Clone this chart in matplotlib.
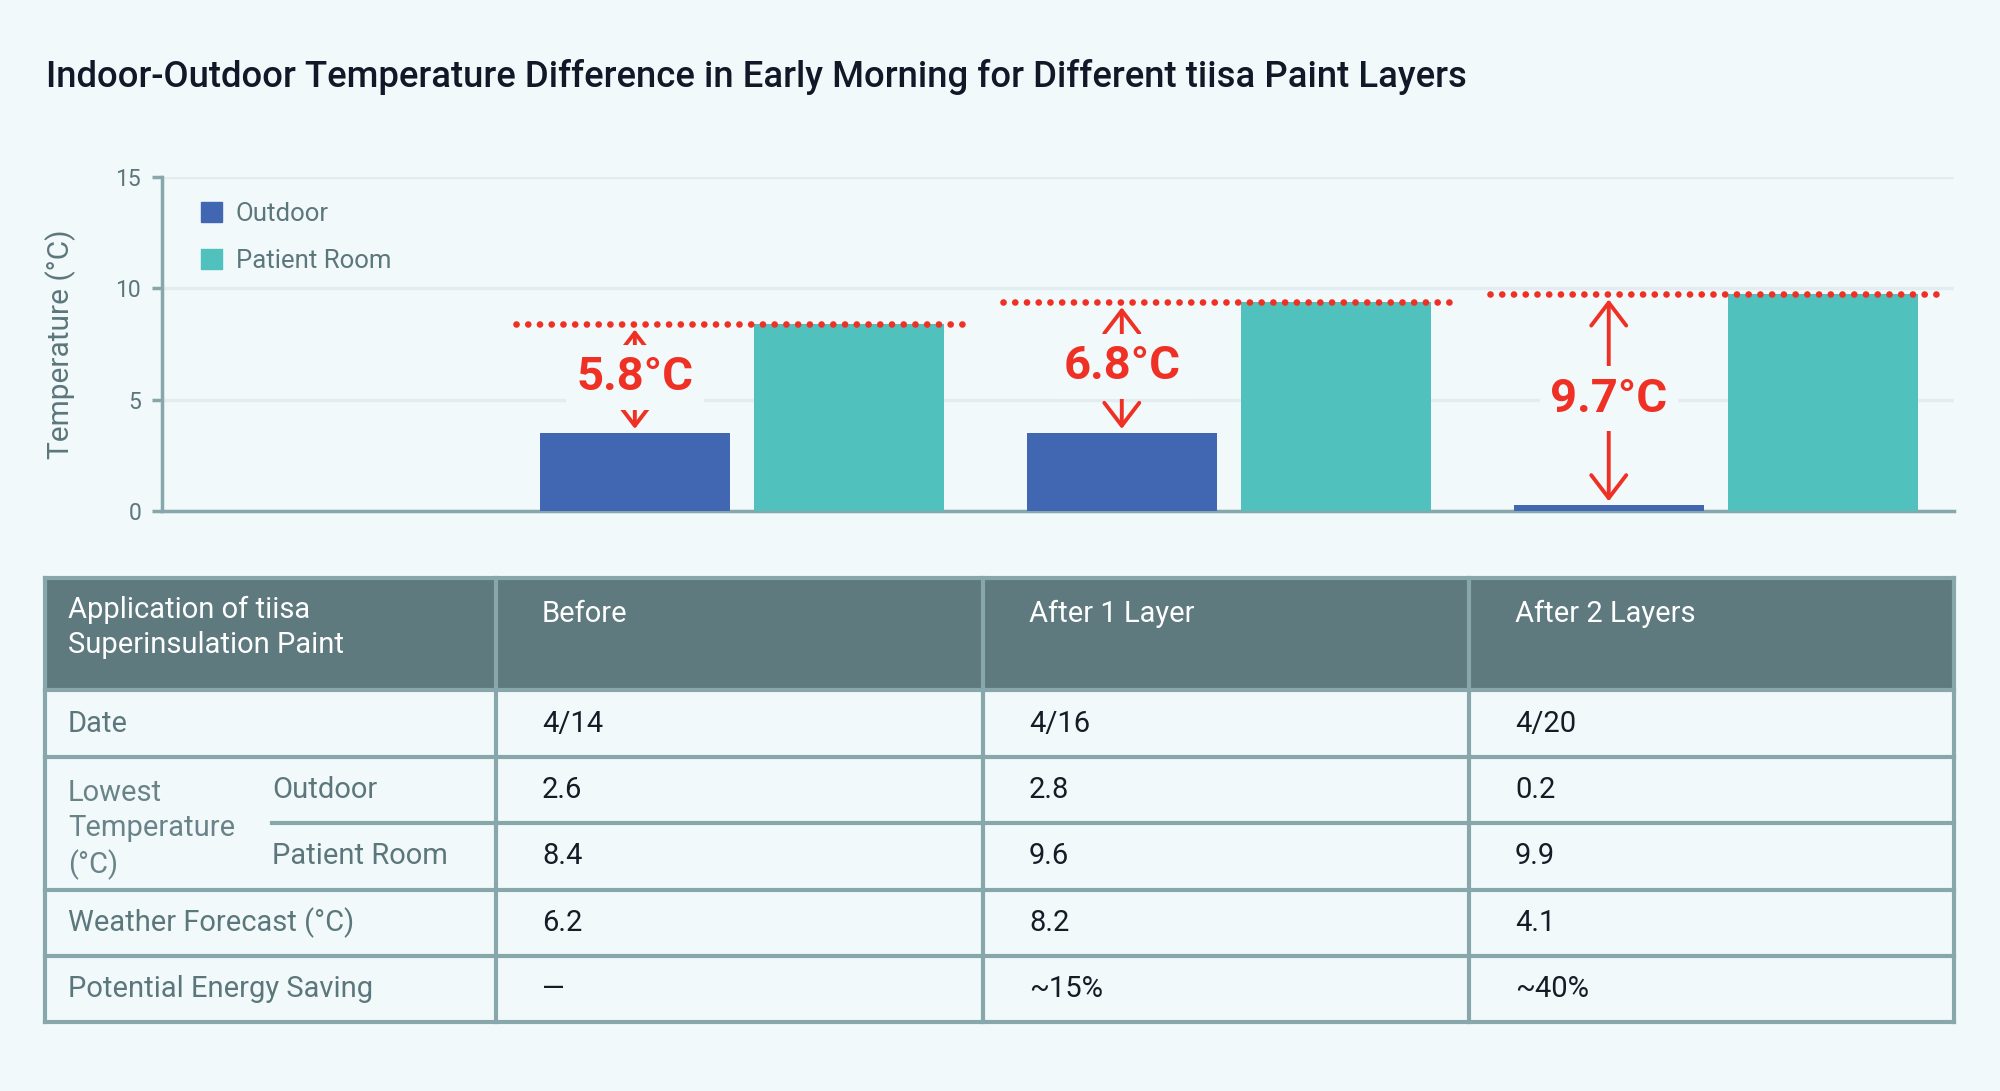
import matplotlib.pyplot as plt
from matplotlib.patches import Rectangle, Patch

plt.rcParams['font.family'] = ['Roboto', 'DejaVu Sans']

# chart data (bar heights as drawn)
stages = ['Before', 'After 1 Layer', 'After 2 Layers']
outdoor_bar = [3.5, 3.5, 0.25]
room_bar = [8.4, 9.4, 9.75]

# table data
dates = ['4/14', '4/16', '4/20']
outdoor_low = [2.6, 2.8, 0.2]
room_low = [8.4, 9.6, 9.9]
forecast = [6.2, 8.2, 4.1]
saving = ['—', '~15%', '~40%']

BG = '#f2f9fb'
BLUE = '#4267b2'
TEAL = '#50c1bc'
RED = '#ee3124'
GRID = '#e1edf1'
SPINE = '#87a7ab'
LABEL = '#5c777c'
HEAD = '#5e7a7f'
INK = '#161b26'

W, H = 2000, 1091
fig = plt.figure(figsize=(20, 10.91), dpi=100, facecolor=BG)

fig.text(46 / W, 1 - 77 / H,
         'Indoor-Outdoor Temperature Difference in Early Morning for Different tiisa Paint Layers',
         fontsize=26.3, fontweight='medium', color='#111827', va='center', ha='left')

# ---- bar chart ----
ax = fig.add_axes([162 / W, 1 - 511 / H, (1954 - 162) / W, (511 - 177) / H])
ax.set_facecolor(BG)
x = range(len(stages))
bw = 0.39
xo = [i - 0.215 for i in x]
xr = [i + 0.225 for i in x]
ax.bar(xo, outdoor_bar, width=bw, color=BLUE, zorder=3)
ax.bar(xr, room_bar, width=bw, color=TEAL, zorder=3)

ax.set_xlim(-1.186, 2.494)
ax.set_ylim(0, 15)
ax.set_yticks([0, 5, 10, 15])
ax.set_xticks([])
ax.yaxis.grid(True, color=GRID, linewidth=2.5, zorder=0)
for s in ['top', 'right']:
    ax.spines[s].set_visible(False)
for s in ['left', 'bottom']:
    ax.spines[s].set_color(SPINE)
    ax.spines[s].set_linewidth(2.5)
ax.tick_params(axis='y', colors=SPINE, length=7, width=2.5, labelsize=16.5,
               labelcolor=LABEL, pad=8)
ax.set_ylabel('Temperature (°C)', fontsize=21.5, color=LABEL)
ax.yaxis.set_label_coords(-0.048, 0.5)

for i in x:
    lo, hi = outdoor_bar[i], room_bar[i]
    ax.plot([i - 0.459, i + 0.459], [hi, hi], color=RED, linewidth=4.8,
            linestyle=(0, (0.01, 1.75)), dash_capstyle='round', zorder=5)
    ax.annotate('', xy=(xo[i], hi), xytext=(xo[i], lo),
                arrowprops=dict(arrowstyle='<->,head_length=0.55,head_width=0.42',
                                color=RED, lw=2.8, shrinkA=3, shrinkB=4,
                                mutation_scale=30), zorder=6)
    diff = room_low[i] - outdoor_low[i]
    ax.text(xo[i], (lo + hi) / 2 + 0.05, f'{diff:.1f}°C', color=RED, fontsize=34,
            fontweight='bold', ha='center', va='center', zorder=7,
            bbox=dict(boxstyle='square,pad=0.22', facecolor=BG, edgecolor='none'))

handles = [Patch(color=BLUE, label='Outdoor'), Patch(color=TEAL, label='Patient Room')]
leg = ax.legend(handles=handles, loc='upper left', bbox_to_anchor=(0.009, 0.995),
                frameon=False, fontsize=18.5, handlelength=0.8, handleheight=0.8,
                handletextpad=0.55, labelspacing=0.9)
for t in leg.get_texts():
    t.set_color(LABEL)

# ---- table ----
tx = fig.add_axes([0, 0, 1, 1])
tx.set_xlim(0, W)
tx.set_ylim(H, 0)
tx.axis('off')

cols = [45, 496, 983, 1469, 1954]
rows = [578, 690, 757, 823, 890, 956, 1022]
tx.add_patch(Rectangle((cols[0], rows[0]), cols[-1] - cols[0], rows[1] - rows[0],
                       facecolor=HEAD, edgecolor='none'))
lw = 3
sub_x = 272
for k, yv in enumerate(rows):
    # the line between the two "Lowest Temperature" rows starts at the sub-column
    x0 = sub_x if k == 3 else cols[0]
    tx.plot([x0, cols[-1]], [yv, yv], color=SPINE, lw=lw, solid_capstyle='projecting')
for xv in cols:
    tx.plot([xv, xv], [rows[0], rows[-1]], color=SPINE, lw=lw, solid_capstyle='projecting')

fs = 21
pad = 46
tx.text(68, 596, 'Application of tiisa\nSuperinsulation Paint', color='white',
        fontsize=fs, va='top', ha='left', linespacing=1.3)
for j, s in enumerate(stages):
    tx.text(cols[j + 1] + pad, 614, s, color='white', fontsize=fs, va='center')

mid = [(rows[k] + rows[k + 1]) / 2 for k in range(len(rows) - 1)]
tx.text(68, mid[1], 'Date', color=LABEL, fontsize=fs, va='center')
tx.text(68, (rows[2] + rows[4]) / 2 + 6, 'Lowest\nTemperature\n(°C)', color='#6a8388',
        fontsize=fs, va='center', linespacing=1.3)
tx.text(sub_x, mid[2], 'Outdoor', color=LABEL, fontsize=fs, va='center')
tx.text(sub_x, mid[3], 'Patient Room', color=LABEL, fontsize=fs, va='center')
tx.text(68, mid[4], 'Weather Forecast (°C)', color=LABEL, fontsize=fs, va='center')
tx.text(68, mid[5], 'Potential Energy Saving', color=LABEL, fontsize=fs, va='center')

for j in range(len(stages)):
    xv = cols[j + 1] + pad
    vals = [dates[j], f'{outdoor_low[j]}', f'{room_low[j]}', f'{forecast[j]}', saving[j]]
    for k, v in enumerate(vals):
        tx.text(xv, mid[k + 1], v, color=INK, fontsize=fs, va='center')

fig.savefig('out.png', dpi=100, facecolor=BG)
